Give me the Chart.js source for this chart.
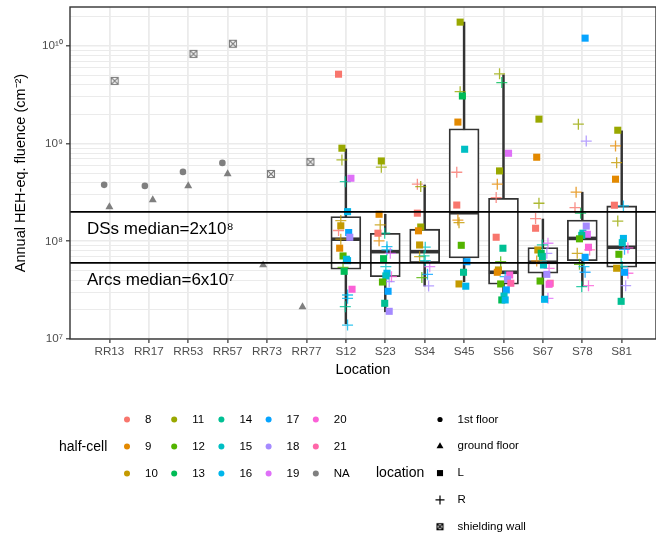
<!DOCTYPE html>
<html>
<head>
<meta charset="utf-8">
<script src="https://cdn.jsdelivr.net/npm/chart.js@4.4.0/dist/chart.umd.min.js"></script>
<style>
  html, body { margin: 0; padding: 0; background: #fff; }
</style>
</head>
<body>
<canvas id="chart" width="656" height="536"></canvas>
<script>
const FONT = '"Liberation Sans", Arial, sans-serif';

const locations = ['RR13', 'RR17', 'RR53', 'RR57', 'RR73', 'RR77', 'S12', 'S23', 'S34', 'S45', 'S56', 'S67', 'S78', 'S81'];
const halfCells = [8, 9, 10, 11, 12, 13, 14, 15, 16, 17, 18, 19, 20, 21];
const halfCellColors = ['#F8766D', '#E38900', '#C49A00', '#99A800', '#53B400', '#00BC56', '#00C094',
                        '#00BFC4', '#00B6EB', '#06A4FF', '#A58AFF', '#DF70F8', '#FB61D7', '#FF66A8'];
const naColor = '#7F7F7F';

// RR alcoves, no half-cell (NA). one value per RR location, null = no measurement
const rrFirstFloor    = [3.78e8, 3.69e8, 5.13e8, 6.34e8, null, null];
const rrGroundFloor   = [2.25e8, 2.65e8, 3.69e8, 4.89e8, 5.72e7, 2.13e7];
const rrShieldingWall = [4.38e9, null, 8.28e9, 1.05e10, 4.89e8, 6.49e8];

// arcs: [half-cell, fluence] for the L and R side
const S12_L = [[8, 5.13e9], [11, 8.97e8], [19, 4.42e8], [16, 2.01e8], [10, 1.44e8], [17, 1.23e8], [18, 1.10e8],
               [9, 8.5e7], [12, 7.08e7], [15, 6.55e7], [16, 6.34e7], [13, 4.93e7], [20, 3.23e7]];
const S12_R = [[11, 6.8e8], [14, 4.08e8], [10, 1.63e8], [8, 1.29e8], [10, 1.05e8], [12, 5.42e7],
               [16, 2.82e7], [16, 2.61e7], [14, 2.14e7], [16, 1.39e7]];
const S23_L = [[11, 6.64e8], [9, 1.89e8], [8, 1.21e8], [13, 6.64e7], [16, 4.71e7], [15, 4.42e7], [12, 3.83e7],
               [17, 3.08e7], [14, 2.32e7], [18, 1.92e7]];
const S23_R = [[11, 5.73e8], [10, 1.47e8], [14, 1.21e8], [9, 1.01e8], [16, 8.8e7], [16, 8.15e7], [19, 7.54e7],
               [15, 5.5e7], [20, 4.34e7], [18, 3.86e7]];
const S34_L = [[8, 1.94e8], [11, 1.40e8], [9, 1.28e8], [10, 9.17e7]];
const S34_R = [[8, 3.84e8], [11, 3.63e8], [15, 8.7e7], [10, 6.96e7], [14, 7.08e7], [15, 6.34e7], [19, 5.5e7],
               [17, 4.59e7], [12, 4.25e7], [18, 3.49e7]];
const S45_L = [[11, 1.75e10], [13, 3.07e9], [9, 1.66e9], [15, 8.75e8], [8, 2.35e8], [12, 9.1e7], [17, 6.18e7],
               [14, 4.82e7], [10, 3.66e7], [16, 3.47e7]];
const S45_R = [[11, 3.40e9], [8, 5.09e8], [9, 1.65e8], [10, 1.55e8]];
const S56_L = [[19, 7.96e8], [11, 5.25e8], [8, 1.1e8], [14, 8.49e7], [10, 5.09e7], [9, 4.82e7], [20, 4.52e7],
               [18, 4.08e7], [21, 3.72e7], [12, 3.66e7], [17, 3.18e7], [15, 2.75e7], [13, 2.51e7], [16, 2.51e7]];
const S56_R = [[11, 5.17e9], [13, 4.21e9], [9, 3.84e8], [8, 2.8e8], [12, 6.18e7], [16, 4.34e7]];
const S67_L = [[11, 1.78e9], [9, 7.25e8], [8, 1.36e8], [10, 8.15e7], [13, 7.54e7], [14, 6.96e7], [15, 5.72e7],
               [18, 4.59e7], [12, 3.92e7], [21, 3.72e7], [20, 3.63e7], [16, 2.55e7]];
const S67_R = [[11, 2.45e8], [8, 1.71e8], [19, 9.55e7], [14, 9.17e7], [18, 7.54e7], [9, 6.29e7], [20, 5.29e7],
               [19, 2.61e7]];
const S78_L = [[17, 1.2e10], [18, 1.43e8], [15, 1.21e8], [19, 1.18e8], [14, 1.15e8], [12, 1.06e8], [20, 8.69e7],
               [17, 6.86e7]];
const S78_R = [[11, 1.58e9], [18, 1.06e9], [9, 3.18e8], [8, 2.21e8], [13, 1.94e8], [21, 8.15e7], [10, 7.54e7],
               [12, 5.82e7], [16, 5.5e7], [17, 4.82e7], [20, 3.51e7], [14, 3.43e7]];
const S81_L = [[11, 1.37e9], [9, 4.32e8], [8, 2.34e8], [16, 1.07e8], [15, 9.68e7], [12, 7.36e7], [10, 5.3e7],
               [17, 4.82e7], [14, 2.43e7]];
const S81_R = [[9, 9.46e8], [10, 6.38e8], [16, 2.3e8], [11, 1.61e8], [20, 8.55e7], [17, 8.28e7], [14, 6.04e7],
               [15, 5.5e7], [20, 4.71e7], [18, 3.51e7]];

// boxplot statistics for the arcs, S12 .. S81
const boxLocations = ['S12', 'S23', 'S34', 'S45', 'S56', 'S67', 'S78', 'S81'];
const boxLow    = [1.43e7, 1.90e7, 3.49e7, 3.86e7, 2.51e7, 2.61e7, 3.43e7, 2.51e7];
const boxQ1     = [5.17e7, 4.34e7, 6.04e7, 6.75e7, 3.63e7, 4.71e7, 6.34e7, 5.42e7];
const boxMedian = [1.05e8, 7.83e7, 7.83e7, 1.96e8, 4.82e7, 6.1e7, 1.07e8, 8.69e7];
const boxQ3     = [1.79e8, 1.21e8, 1.33e8, 1.42e9, 2.76e8, 8.61e7, 1.65e8, 2.3e8];
const boxHigh   = [8.81e8, 1.89e8, 3.77e8, 1.75e10, 5.05e9, 1.69e8, 3.18e8, 1.35e9];

const dsMedian = 2e8;
const arcsMedian = 6e7;
const refLines = [[dsMedian, 'DSs median=2x10⁸'], [arcsMedian, 'Arcs median=6x10⁷']];

const yDecades = [7, 8, 9, 10];
const yTickLabels = ['10⁷', '10⁸', '10⁹', '10¹⁰'];
const yMin = 1e7, yMax = 2.5e10;

const DODGE_WIDTH = 0.4;

function hexToRgba(hex, a) {
    const n = parseInt(hex.slice(1), 16);
    return `rgba(${(n >> 16) & 255}, ${(n >> 8) & 255}, ${n & 255}, ${a})`;
}

function colorOf(h) {
    const i = halfCells.indexOf(h);
    return i < 0 ? naColor : halfCellColors[i];
}

function dodgeHalfCell(h) {
    return (halfCells.indexOf(h) - (halfCells.length - 1) / 2) * DODGE_WIDTH / halfCells.length;
}

// square with a cross, like R's pch 7
function makeBoxCross(color, size) {
    const c = document.createElement('canvas');
    c.width = size + 2;
    c.height = size + 2;
    const g = c.getContext('2d');
    g.strokeStyle = color;
    g.lineWidth = 1.1;
    g.strokeRect(1.5, 1.5, size - 1, size - 1);
    g.beginPath();
    g.moveTo(1.5, 1.5); g.lineTo(size + 0.5, size + 0.5);
    g.moveTo(size + 0.5, 1.5); g.lineTo(1.5, size + 0.5);
    g.stroke();
    return c;
}

function isDecade(v) {
    const e = Math.log10(v);
    return Math.abs(e - Math.round(e)) < 1e-9;
}

// arc points
const sColumns = [['S12', S12_L, S12_R], ['S23', S23_L, S23_R], ['S34', S34_L, S34_R], ['S45', S45_L, S45_R],
                  ['S56', S56_L, S56_R], ['S67', S67_L, S67_R], ['S78', S78_L, S78_R], ['S81', S81_L, S81_R]];
const lPoints = [], rPoints = [];
sColumns.forEach(([loc, L, R]) => {
    const xi = locations.indexOf(loc) + 1;
    L.forEach(([h, v]) => lPoints.push({ x: xi + dodgeHalfCell(h), y: v, h: h }));
    R.forEach(([h, v]) => rPoints.push({ x: xi + dodgeHalfCell(h), y: v, h: h }));
});

// RR points, dodged by the groups present at each location
const rrGroups = [rrFirstFloor, rrGroundFloor, rrShieldingWall];
const rrPoints = rrGroups.map(() => []);
for (let i = 0; i < rrFirstFloor.length; i++) {
    const present = [];
    rrGroups.forEach((g, k) => { if (g[i] != null) present.push(k); });
    present.forEach((k, j) => {
        const off = (j - (present.length - 1) / 2) * DODGE_WIDTH / present.length;
        rrPoints[k].push({ x: i + 1 + off, y: rrGroups[k][i] });
    });
}

const boxX = boxLocations.map(l => locations.indexOf(l) + 1);
const yGrid = [];
yDecades.forEach(e => {
    for (let k = 1; k <= 9; k++) {
        const v = k * Math.pow(10, e);
        if (v <= yMax) yGrid.push(v);
    }
});

const boxCrossGrey = makeBoxCross(naColor, 8);
const boxCrossBlack = makeBoxCross('#000000', 7);

const overlays = {
    id: 'overlays',
    afterDatasetsDraw(chart) {
        const ctx = chart.ctx;
        const area = chart.chartArea;
        const y = chart.scales.y;
        ctx.save();
        refLines.forEach(([v, label]) => {
            const py = y.getPixelForValue(v);
            ctx.strokeStyle = '#000000';
            ctx.lineWidth = 1.8;
            ctx.beginPath();
            ctx.moveTo(area.left, py);
            ctx.lineTo(area.right, py);
            ctx.stroke();
            ctx.fillStyle = '#000000';
            ctx.font = `17px ${FONT}`;
            ctx.textBaseline = 'middle';
            ctx.textAlign = 'left';
            ctx.fillText(label, area.left + 17, py + 17);
        });
        // panel border
        ctx.strokeStyle = '#333333';
        ctx.lineWidth = 1.4;
        ctx.strokeRect(area.left, area.top, area.right - area.left, area.bottom - area.top);
        ctx.restore();
    },
    afterDraw(chart) {
        const ctx = chart.ctx;
        ctx.save();
        ctx.textBaseline = 'middle';
        ctx.textAlign = 'left';
        ctx.fillStyle = '#000000';
        ctx.font = `14px ${FONT}`;
        ctx.fillText('half-cell', 59, 447);
        ctx.fillText('location', 376, 473.5);

        ctx.font = `11.5px ${FONT}`;
        const colorLabels = halfCells.map(String).concat(['NA']);
        const swatches = halfCellColors.concat([naColor]);
        colorLabels.forEach((lab, i) => {
            const px = 127 + Math.floor(i / 3) * 47.2;
            const py = 419.5 + (i % 3) * 27;
            ctx.fillStyle = swatches[i];
            Chart.helpers.drawPoint(ctx, { pointStyle: 'circle', radius: 3, borderWidth: 0, rotation: 0 }, px, py);
            ctx.fillStyle = '#000000';
            ctx.fillText(lab, px + 18, py);
        });

        const shapeKeys = [
            ['1st floor', { pointStyle: 'circle', radius: 2.6, borderWidth: 0 }],
            ['ground floor', { pointStyle: 'triangle', radius: 4, borderWidth: 0 }],
            ['L', { pointStyle: 'rect', radius: 4.3, borderWidth: 0 }],
            ['R', { pointStyle: 'cross', radius: 4.5, borderWidth: 1.2 }],
            ['shielding wall', { pointStyle: boxCrossBlack, radius: 4, borderWidth: 0 }]
        ];
        shapeKeys.forEach(([lab, opt], i) => {
            const px = 440, py = 419.5 + i * 26.8;
            ctx.fillStyle = '#000000';
            ctx.strokeStyle = '#000000';
            ctx.lineWidth = opt.borderWidth || 1;
            Chart.helpers.drawPoint(ctx, Object.assign({ rotation: 0 }, opt), px, py);
            ctx.fillText(lab, 457.5, py);
        });
        ctx.restore();
    }
};

Chart.defaults.font.family = FONT;

new Chart(document.getElementById('chart'), {
    type: 'scatter',
    data: {
        datasets: [
            {
                label: 'L',
                data: lPoints,
                pointStyle: 'rect',
                radius: 5,
                borderWidth: 0,
                backgroundColor: lPoints.map(p => colorOf(p.h)),
                order: 0
            },
            {
                label: 'R',
                data: rPoints,
                pointStyle: 'cross',
                radius: 5.5,
                borderWidth: 1.3,
                borderColor: rPoints.map(p => hexToRgba(colorOf(p.h), 0.8)),
                backgroundColor: 'rgba(0,0,0,0)',
                order: 0
            },
            {
                label: '1st floor',
                data: rrPoints[0],
                pointStyle: 'circle',
                radius: 3.3,
                borderWidth: 0,
                backgroundColor: naColor,
                order: 0
            },
            {
                label: 'ground floor',
                data: rrPoints[1],
                pointStyle: 'triangle',
                radius: 4.6,
                borderWidth: 0,
                backgroundColor: naColor,
                order: 0
            },
            {
                label: 'shielding wall',
                data: rrPoints[2],
                pointStyle: boxCrossGrey,
                radius: 4,
                order: 0
            },
            {
                label: 'median',
                data: boxX.map((x, i) => ({ x: x, y: boxMedian[i] })),
                pointStyle: 'line',
                radius: 14.6,
                borderWidth: 3.6,
                borderColor: '#333333',
                order: 1
            },
            {
                type: 'bar',
                label: 'box',
                data: boxX.map((x, i) => ({ x: x, y: [boxQ1[i], boxQ3[i]] })),
                grouped: false,
                barThickness: 30,
                maxBarThickness: 30,
                backgroundColor: '#FFFFFF',
                borderColor: '#333333',
                borderWidth: 1.8,
                borderSkipped: false,
                order: 2
            },
            {
                type: 'bar',
                label: 'whisker',
                data: boxX.map((x, i) => ({ x: x, y: [boxLow[i], boxHigh[i]] })),
                grouped: false,
                barThickness: 1.8,
                maxBarThickness: 1.8,
                backgroundColor: '#333333',
                borderWidth: 0,
                order: 3
            }
        ]
    },
    options: {
        responsive: false,
        animation: false,
        events: [],
        layout: { autoPadding: false, padding: { left: 0, right: 0, top: 7, bottom: 150 } },
        plugins: {
            legend: { display: false },
            tooltip: { enabled: false }
        },
        scales: {
            x: {
                type: 'linear',
                min: 0,
                max: 14.87,
                offset: false,
                afterBuildTicks: s => { s.ticks = locations.map((_, i) => ({ value: i + 1 })); },
                afterFit: s => { s.height = 47; s.paddingLeft = 0; s.paddingRight = 0; },
                ticks: {
                    autoSkip: false,
                    maxRotation: 0,
                    minRotation: 0,
                    color: '#4D4D4D',
                    font: { size: 11.7 },
                    padding: 2,
                    callback: v => locations[v - 1]
                },
                grid: { color: '#EBEBEB', lineWidth: 1.8, tickColor: '#333333', tickLength: 4, tickWidth: 1.2, offset: false },
                border: { display: false },
                title: { display: true, text: 'Location', color: '#000000', font: { size: 14.5 }, padding: { top: 0, bottom: 7 } }
            },
            y: {
                type: 'logarithmic',
                min: yMin,
                max: yMax,
                bounds: 'data',
                afterBuildTicks: s => { s.ticks = yGrid.map(v => ({ value: v })); },
                afterFit: s => { s.width = 70; s.paddingTop = 0; s.paddingBottom = 0; },
                ticks: {
                    autoSkip: false,
                    color: '#4D4D4D',
                    font: { size: 11.7 },
                    padding: 3,
                    callback: v => {
                        if (!isDecade(v)) return '';
                        return yTickLabels[yDecades.indexOf(Math.round(Math.log10(v)))];
                    }
                },
                grid: {
                    color: '#EBEBEB',
                    lineWidth: c => (c.tick && isDecade(c.tick.value)) ? 1.6 : 1,
                    tickColor: c => (c.tick && isDecade(c.tick.value)) ? '#333333' : 'rgba(0,0,0,0)',
                    tickLength: 4,
                    tickWidth: 1.2
                },
                border: { display: false },
                title: { display: true, text: 'Annual HEH-eq. fluence (cm⁻²)', color: '#000000', font: { size: 14.5 }, padding: { top: 12, bottom: 0 } }
            }
        }
    },
    plugins: [overlays]
});
</script>
</body>
</html>
